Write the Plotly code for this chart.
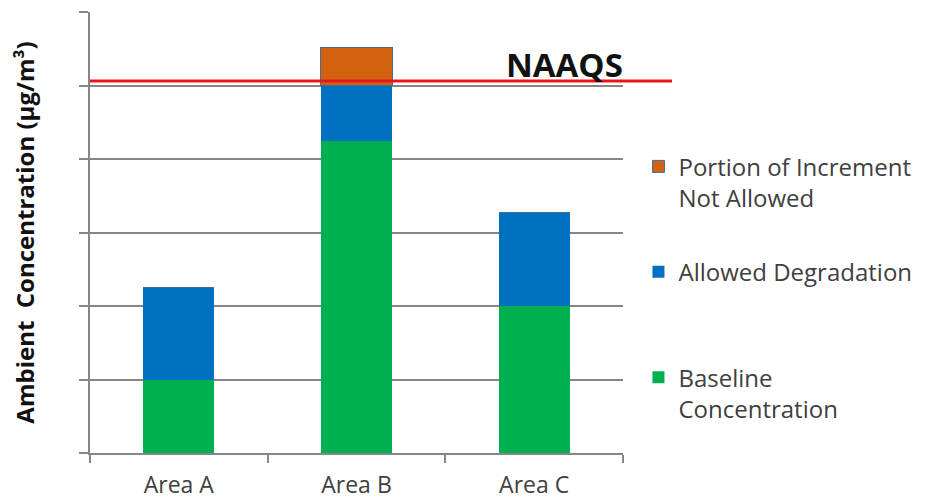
import plotly.graph_objects as go

categories = ["Area A", "Area B", "Area C"]
baseline = [1.0, 4.24, 2.0]
allowed = [1.25, 0.76, 1.27]
not_allowed = [0.0, 0.52, 0.0]
naaqs_level = 5.06

series_names = ["Baseline<br>Concentration", "Allowed Degradation<br> ", "Portion of Increment<br>Not Allowed"]
colors = ["#00B050", "#0070C0", "#D3620F"]

fig = go.Figure()
fig.add_trace(go.Bar(x=categories, y=baseline, name=series_names[0], legendrank=3,
                     marker=dict(color=colors[0], line=dict(width=0)), legendgroup="g1"))
fig.add_trace(go.Bar(x=categories, y=allowed, name=series_names[1], legendrank=2,
                     marker=dict(color=colors[1], line=dict(width=0)), legendgroup="g2"))
fig.add_trace(go.Bar(x=categories, y=not_allowed, name=series_names[2], legendrank=1,
                     marker=dict(color=colors[2], line=dict(width=1, color="#3F6E9A")), legendgroup="g3"))

fig.add_shape(type="line", xref="paper", yref="y", x0=0, x1=1.092, y0=naaqs_level, y1=naaqs_level,
              line=dict(color="#E8161B", width=3))
fig.add_annotation(text="<b>NAAQS</b>", xref="paper", yref="y", x=0.89, y=5.29,
                   showarrow=False, font=dict(family="Open Sans", size=33, color="#111111"),
                   xanchor="center", yanchor="middle")

fig.update_layout(
    width=932, height=504,
    margin=dict(l=82, r=317, t=4, b=59),
    paper_bgcolor="white", plot_bgcolor="white",
    barmode="stack", bargap=0.6,
    font=dict(family="Open Sans", color="#404040"),
    legend=dict(x=1.029, y=0.70, xanchor="left", yanchor="top",
                traceorder="grouped", tracegroupgap=40, valign="top",
                font=dict(family="Open Sans", size=24, color="#404040"),
                bgcolor="rgba(0,0,0,0)"),
    showlegend=True,
)
fig.update_xaxes(showline=True, linecolor="#868686", linewidth=1.5,
                 ticks="outside", tickson="boundaries", ticklen=8, tickcolor="#868686", tickwidth=1.5,
                 tickfont=dict(family="Open Sans", size=23, color="#404040"), ticklabelstandoff=11,
                 showgrid=False)
fig.update_yaxes(range=[0, 6], dtick=1, showticklabels=False,
                 showline=True, linecolor="#868686", linewidth=1.5,
                 ticks="outside", ticklen=9, tickcolor="#868686", tickwidth=1.5,
                 showgrid=True, gridcolor="#868686", gridwidth=1.5, zeroline=False,
                 title=dict(text="<b>Ambient\u00a0 Concentration (µg/m³)</b>", standoff=38,
                            font=dict(family="Open Sans", size=24, color="#111111")))

fig.write_html("out.html")
